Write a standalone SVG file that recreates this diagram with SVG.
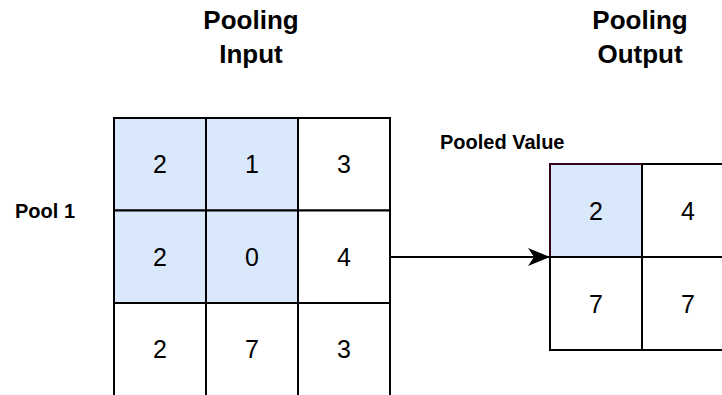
<svg xmlns="http://www.w3.org/2000/svg" width="722" height="395" viewBox="0 0 722 395">
<style>
.cell{stroke:#000;stroke-width:2;fill:#fff}
.hl{fill:#dae8fc}
.num{font-family:"Liberation Sans",Arial,sans-serif;font-size:25px;fill:#000;text-anchor:middle;dominant-baseline:central}
.title{font-family:"Liberation Sans",Arial,sans-serif;font-size:26px;font-weight:bold;fill:#000;text-anchor:middle}
.lbl{font-family:"Liberation Sans",Arial,sans-serif;font-size:20px;font-weight:bold;fill:#000}
</style>
<defs>
<marker id="arr" viewBox="0 0 22 20" refX="22" refY="10" markerWidth="22" markerHeight="20" markerUnits="userSpaceOnUse" orient="auto">
<path d="M0,1 L22,10 L0,19 L6,10 Z" fill="#000"/>
</marker>
</defs>
<rect width="722" height="395" fill="#fff"/>
<g id="title-input"><text class="title" x="251" y="29">Pooling</text><text class="title" x="251" y="63">Input</text></g>
<g id="title-output"><text class="title" x="640" y="29">Pooling</text><text class="title" x="640" y="63">Output</text></g>
<g id="label-pool1"><text class="lbl" x="15" y="218">Pool 1</text></g>
<g id="label-pooled"><text class="lbl" x="440" y="149">Pooled Value</text></g>
<g id="input-grid">
<g id="in-r1c1"><rect class="cell hl" x="114" y="118" width="92" height="92.5"/><text class="num" x="160" y="164">2</text></g>
<g id="in-r1c2"><rect class="cell hl" x="206" y="118" width="92" height="92.5"/><text class="num" x="252" y="164">1</text></g>
<g id="in-r1c3"><rect class="cell" x="298" y="118" width="92" height="92.5"/><text class="num" x="344" y="164">3</text></g>
<g id="in-r2c1"><rect class="cell hl" x="114" y="210.5" width="92" height="92.5"/><text class="num" x="160" y="256.5">2</text></g>
<g id="in-r2c2"><rect class="cell hl" x="206" y="210.5" width="92" height="92.5"/><text class="num" x="252" y="256.5">0</text></g>
<g id="in-r2c3"><rect class="cell" x="298" y="210.5" width="92" height="92.5"/><text class="num" x="344" y="256.5">4</text></g>
<g id="in-r3c1"><rect class="cell" x="114" y="303" width="92" height="93"/><text class="num" x="160" y="349">2</text></g>
<g id="in-r3c2"><rect class="cell" x="206" y="303" width="92" height="93"/><text class="num" x="252" y="349">7</text></g>
<g id="in-r3c3"><rect class="cell" x="298" y="303" width="92" height="93"/><text class="num" x="344" y="349">3</text></g>
</g>
<g id="output-grid">
<g id="out-r1c1"><rect class="cell hl" x="550" y="164" width="92" height="93" style="stroke:#33001a"/><text class="num" x="596" y="210.5">2</text></g>
<g id="out-r1c2"><rect class="cell" x="642" y="164" width="92" height="93"/><text class="num" x="688" y="210.5">4</text></g>
<g id="out-r2c1"><rect class="cell" x="550" y="257" width="92" height="93"/><text class="num" x="596" y="303.5">7</text></g>
<g id="out-r2c2"><rect class="cell" x="642" y="257" width="92" height="93"/><text class="num" x="688" y="303.5">7</text></g>
<path d="M550,164 H642" stroke="#33001a" stroke-width="2" fill="none"/>
</g>
<g id="connectors">
<path d="M390,257 H550" stroke="#000" stroke-width="2" fill="none" marker-end="url(#arr)"/>
</g>
</svg>
